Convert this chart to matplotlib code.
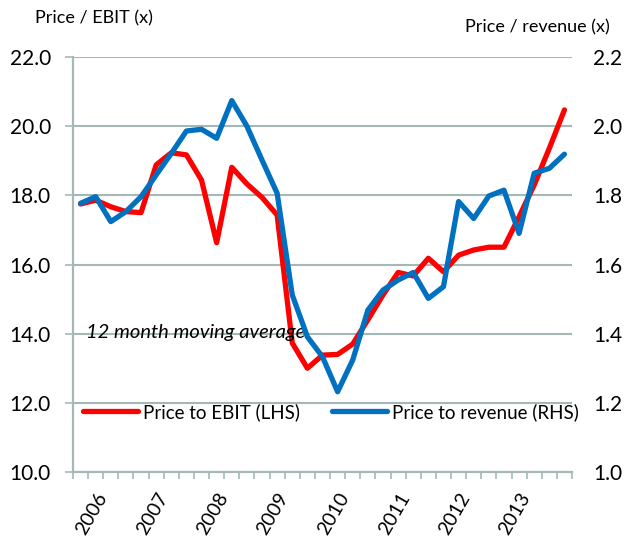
import matplotlib
matplotlib.use("Agg")
import matplotlib.pyplot as plt
import numpy as np

plt.rcParams['font.family'] = ['Lato', 'DejaVu Sans']

# quarterly points, 12 month moving average
years = ['2006', '2007', '2008', '2009', '2010', '2011', '2012', '2013']
year_pos = [1, 5, 9, 13, 17, 21, 25, 29]

price_ebit = [17.75, 17.86, 17.67, 17.53, 17.50, 18.88, 19.23, 19.17, 18.44, 16.63,
              18.81, 18.33, 17.94, 17.43, 13.73, 13.00, 13.38, 13.40, 13.70, 14.40,
              15.12, 15.77, 15.67, 16.18, 15.79, 16.27, 16.42, 16.50, 16.50, 17.38,
              18.30, 19.36, 20.47]
price_rev = [1.777, 1.796, 1.724, 1.753, 1.796, 1.859, 1.921, 1.986, 1.991, 1.965,
             2.074, 2.000, 1.902, 1.806, 1.512, 1.391, 1.333, 1.232, 1.324, 1.468,
             1.526, 1.555, 1.577, 1.502, 1.536, 1.782, 1.733, 1.798, 1.815, 1.690,
             1.864, 1.878, 1.919]

red = '#FF0000'
blue = '#0070C0'
grid_c = '#A5B8B8'

fig = plt.figure(figsize=(6.24, 5.41), dpi=100)
ax = fig.add_axes([73/624, 1 - 472/541, 499/624, 415/541])
ax2 = ax.twinx()

x = np.arange(len(price_ebit))
l1, = ax.plot(x, price_ebit, color=red, lw=3.8, solid_joinstyle='round', solid_capstyle='round',
              label='Price to EBIT (LHS)')
l2, = ax2.plot(x, price_rev, color=blue, lw=3.8, solid_joinstyle='round', solid_capstyle='round',
               label='Price to revenue (RHS)')

ax.set_xlim(-0.5, len(x) - 0.5)
ax.set_ylim(10, 22)
ax2.set_ylim(1.0, 2.2)
ax.set_yticks(np.arange(10, 22.1, 2))
ax2.set_yticks(np.arange(1.0, 2.21, 0.2))
ax.set_yticklabels(['%.1f' % v for v in np.arange(10, 22.1, 2)], fontsize=15)
ax2.set_yticklabels(['%.1f' % v for v in np.arange(1.0, 2.21, 0.2)], fontsize=15)

ax.yaxis.grid(True, color=grid_c, lw=1.5)
ax.set_axisbelow(True)

# category boundary ticks, year labels on minor ticks
ax.set_xticks(np.arange(-0.5, len(x), 1.0))
ax.set_xticklabels([])
ax.set_xticks(year_pos, minor=True)
ax.set_xticklabels(years, minor=True, rotation=60, ha='right', rotation_mode='anchor', fontsize=14)
ax.tick_params(axis='x', which='major', length=5, color=grid_c, width=1.2)
ax.tick_params(axis='x', which='minor', length=0, pad=13)
ax.tick_params(axis='y', length=6, color=grid_c, width=1.2, pad=10)
ax2.tick_params(axis='y', length=0, pad=15)

for a in (ax, ax2):
    a.spines['top'].set_visible(False)
    a.spines['right'].set_visible(False)
    a.spines['left'].set_color(grid_c)
    a.spines['bottom'].set_color(grid_c)
    a.spines['left'].set_linewidth(1.5)
    a.spines['bottom'].set_linewidth(1.5)

ax.text(0.026, 0.335, '12 month moving average', transform=ax.transAxes, fontsize=14.5,
        style='italic', va='center')

ax2.legend(handles=[l1, l2], loc='center left', bbox_to_anchor=(0.02, 0.145), ncol=2,
           frameon=False, fontsize=13.5, handlelength=2.95, handletextpad=0.25,
           columnspacing=1.7, borderpad=0, borderaxespad=0)

fig.text(35/624, 1 - 18/541, 'Price / EBIT (x)', fontsize=13, va='center')
fig.text(610/624, 1 - 27/541, 'Price / revenue (x)', fontsize=13, va='center', ha='right')

fig.savefig('out.png', dpi=100)
